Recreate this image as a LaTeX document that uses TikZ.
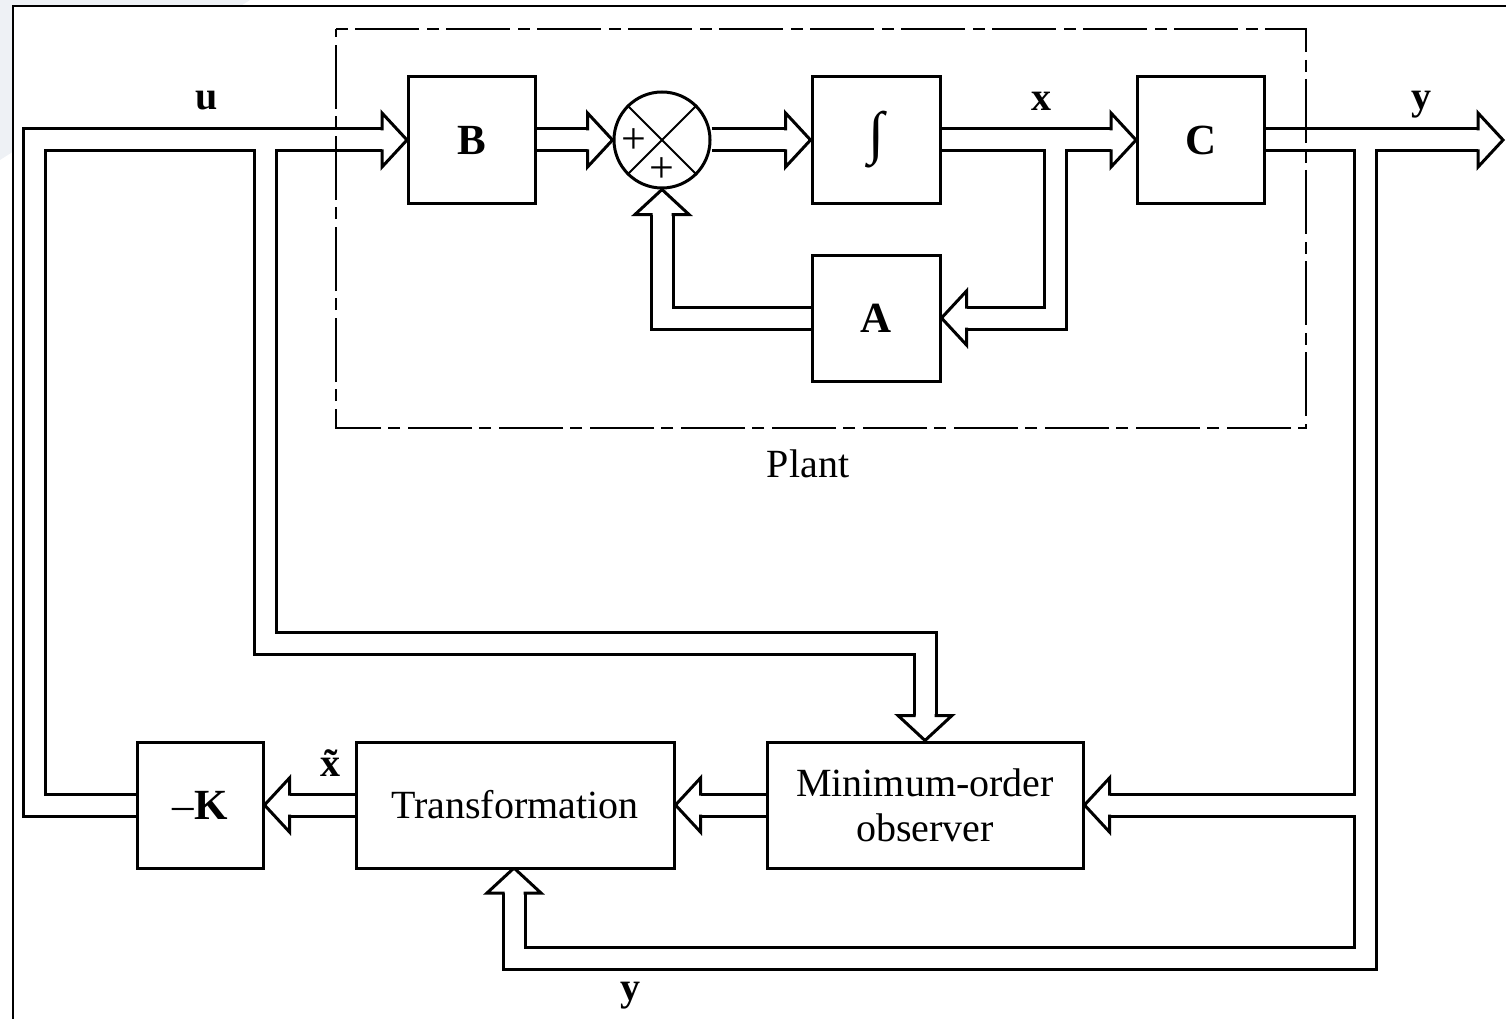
\documentclass[tikz,border=0pt]{standalone}
\usepackage{fontspec}
\setmainfont{Liberation Serif}
\usetikzlibrary{backgrounds,calc}
\definecolor{bgtint}{HTML}{EEF1F5}
\tikzset{
  blk/.style={draw, line width=3pt, fill=white, minimum width=127pt, minimum height=127pt,
    inner sep=0pt, font=\fontsize{40}{45}\selectfont},
  chanout/.style={line width=25pt, line join=miter, black},
  chanin/.style={line width=19pt, line join=miter, white},
  lbl/.style={font=\fontsize{40}{45}\selectfont\bfseries, inner sep=0pt},
  blbl/.style={font=\fontsize{43}{45}\selectfont\bfseries},
  txt/.style={font=\fontsize{40}{45}\selectfont, inner sep=0pt},
  plus/.style={font=\fontsize{44}{44}\selectfont, inner sep=0pt},
  vhead/.pic={
    \fill[white] (-25,-27) -- (0,0) -- (-25,27) -- cycle;
    \draw[line width=3pt, line join=miter, black] (-25,9.5) -- (-25,27) -- (0,0) -- (-25,-27) -- (-25,-9.5);
  }
}
\begin{document}
\begin{tikzpicture}[x=1pt, y=-1pt]
\useasboundingbox (0,0) rectangle (1506,1019);

% blocks
\node[blk, blbl] (B) at (472,140) {B};
\node[draw, circle, line width=3pt, minimum size=96pt, inner sep=0pt, fill=white] (S) at (662,140) {};
\node[blk, minimum width=128pt, font=\fontsize{58}{58}\selectfont\bfseries] (I) at (876,140) {∫};
\node[blk, blbl] (C) at (1201,140) {C};
\node[blk, blbl, minimum width=128pt, minimum height=126pt] (A) at (876,318) {A};
\node[blk, minimum width=126pt, minimum height=126pt, font=\fontsize{43}{45}\selectfont] (K) at (200,805) {–\textbf{K}};
\node[blk, minimum width=318pt, minimum height=126pt] (T) at (515,805) {Transformation};
\node[blk, minimum width=316pt, minimum height=126pt, align=center] (O) at (925,805) {Minimum-order\\observer};

% summing junction details
\draw[line width=2pt] (S.north east) -- (S.south west);
\draw[line width=2pt] (S.north west) -- (S.south east);
\node[plus] (p1) at (634,141) {+};
\node[plus] (p2) at (662,170) {+};

% plant box
\draw[line width=2.5pt, dash pattern=on 12pt off 7pt on 64pt off 8pt] (336,29) -- (1306,29) -- (1306,428) -- (336,428) -- cycle;
\node[txt] (plant) at (808,464) {Plant};

% labels
\node[lbl] (lu) at (207,101) {u};
\node[lbl] (lx) at (1041,101) {x};
\node[lbl] (ly) at (1421,105) {y};
\node[lbl] (lxt) at (330,763) {\~{x}};
\node[lbl] (ly2) at (630,996) {y};

% coordinates for channels
\coordinate (uL) at (34,805);
\coordinate (uT) at (34,140);
\coordinate (ub0) at (265,140);
\coordinate (ub1) at (265,643);
\coordinate (ub2) at (925,643);
\coordinate (xb0) at (1055,140);
\coordinate (xb1) at (1055,318);
\coordinate (ab1) at (662,318);
\coordinate (yout) at (1503,140);
\coordinate (yb0) at (1365,140);
\coordinate (yb1) at (1365,958);
\coordinate (yb2) at (514,958);
\coordinate (yo) at (1365,805);
\coordinate (Tb) at (514,868);

\begin{scope}[on background layer]
  \fill[bgtint] (0,0) -- (250,0) -- (0,160) -- cycle;
  \fill[white] (13,6) rectangle (1506,1019);
  \draw[line width=2.5pt] (13,1019) -- (13,6) -- (1506,6);
  \foreach \st in {chanout, chanin} {
    \draw[\st] (K.west) -- (uL) -- (uT) -- ($(B.west)+(-25,0)$);
    \draw[\st] (ub0) -- (ub1) -- (ub2) -- ($(O.north)+(0,-25)$);
    \draw[\st] (B.east) -- ($(S.west)+(-25,0)$);
    \draw[\st] (S.east) -- ($(I.west)+(-25,0)$);
    \draw[\st] (I.east) -- ($(C.west)+(-25,0)$);
    \draw[\st] (xb0) -- (xb1) -- ($(A.east)+(25,0)$);
    \draw[\st] (A.west) -- (ab1) -- ($(S.south)+(0,25)$);
    \draw[\st] (C.east) -- ($(yout)+(-25,0)$);
    \draw[\st] (yb0) -- (yb1) -- (yb2) -- ($(Tb)+(0,25)$);
    \draw[\st] (yo) -- ($(O.east)+(25,0)$);
    \draw[\st] (O.west) -- ($(T.east)+(25,0)$);
    \draw[\st] (T.west) -- ($(K.east)+(25,0)$);
  }
  \pic at (B.west) {vhead};
  \pic at (S.west) {vhead};
  \pic at (I.west) {vhead};
  \pic at (C.west) {vhead};
  \pic at (yout) {vhead};
  \pic[rotate=180] at (A.east) {vhead};
  \pic[rotate=90] at (S.south) {vhead};
  \pic[rotate=270] at (O.north) {vhead};
  \pic[rotate=180] at (O.east) {vhead};
  \pic[rotate=180] at (T.east) {vhead};
  \pic[rotate=180] at (K.east) {vhead};
  \pic[rotate=90] at (Tb) {vhead};
\end{scope}
\end{tikzpicture}
\end{document}
